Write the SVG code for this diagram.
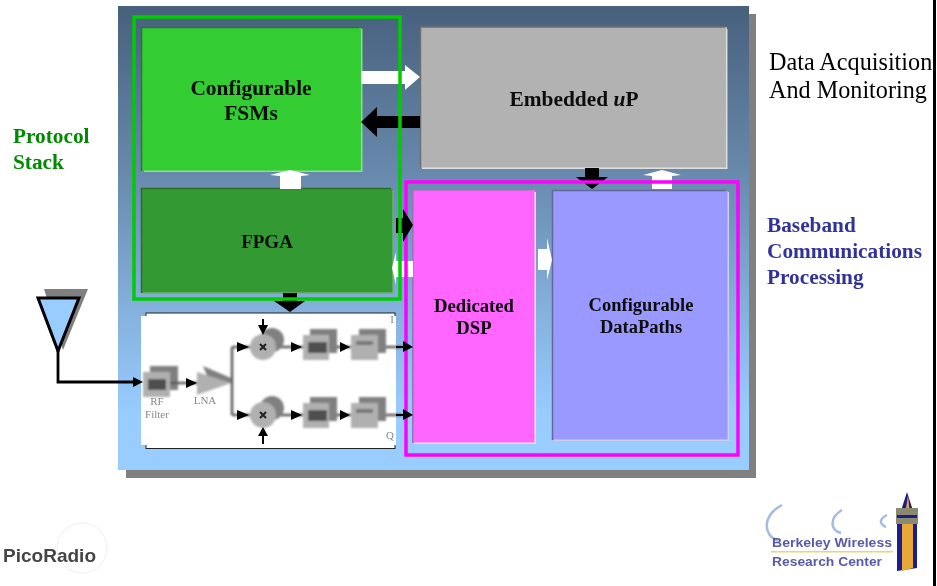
<svg xmlns="http://www.w3.org/2000/svg" width="937" height="586" viewBox="0 0 937 586">
<defs>
<linearGradient id="bg" x1="0" y1="0" x2="0" y2="1"><stop offset="0" stop-color="#47607c"/><stop offset="0.38" stop-color="#6a8cb0"/><stop offset="0.65" stop-color="#84b0dc"/><stop offset="0.88" stop-color="#99ccff"/><stop offset="1" stop-color="#99ccff"/></linearGradient>
<filter id="b1" x="-5%" y="-5%" width="110%" height="110%"><feGaussianBlur stdDeviation="0.9"/></filter>
<filter id="b2" x="-5%" y="-20%" width="110%" height="140%"><feGaussianBlur stdDeviation="0.6"/></filter>
<filter id="b3" x="-5%" y="-20%" width="110%" height="140%"><feGaussianBlur stdDeviation="0.3"/></filter>
</defs>
<style>
text{font-family:"Liberation Serif","Times New Roman",serif;filter:url(#b3)}
.b{font-weight:bold;text-anchor:middle;fill:#0c0c0c}
.l{font-size:21.300px;font-weight:bold}
.blk{fill:#000}.wht{fill:#fff}
.g{fill:#b0b0b0}.d{fill:#808080}.i{fill:#505050}
.e{fill:none;stroke-width:1.500}
.w{stroke:#5c5c5c;stroke-width:2.500;fill:none}
.s{font-family:"Liberation Sans",Arial,sans-serif;font-weight:bold}
.gr{fill:#888;font-size:11px;text-anchor:middle}
.arc{fill:none;stroke:#a4bce0;stroke-width:2.500}
</style>
<rect width="937" height="586" fill="#fff"/>
<rect x="933" y="0" width="3" height="586" fill="#000"/>
<rect x="126" y="14" width="630" height="464" fill="#808080"/>
<rect x="118" y="6" width="631" height="464" fill="url(#bg)"/>
<g id="fsm"><rect x="142" y="28" width="220" height="143" fill="#33cc33"/><path class="e" stroke="#2b7a2b" d="M141.500 171V27.500H359"/><path class="e" stroke="#8ee08e" d="M361.700 29V171.300H144"/><text class="b" font-size="21.400" x="251" y="95">Configurable</text><text class="b" font-size="21.400" x="251" y="120">FSMs</text></g>
<g id="up"><rect x="421" y="27" width="306" height="141" fill="#b2b2b2"/><path class="e" stroke="#707070" d="M420.500 168V27H725"/><path class="e" stroke="#e0e0e0" d="M726.700 29V168.300H422"/><text class="b" font-size="21.400" x="574" y="106">Embedded <tspan font-style="italic">u</tspan>P</text></g>
<g id="fpga"><rect x="142" y="189" width="251" height="104" fill="#339933"/><path class="e" stroke="#2a6e2a" d="M141.500 293V188.500H391"/><path class="e" stroke="#6ab36a" d="M393 190V293H143"/><text class="b" font-size="19" x="267" y="248">FPGA</text></g>
<g id="dsp"><rect x="413" y="190" width="122" height="253" fill="#ff66ff"/><path class="e" stroke="#8f78b0" d="M412.800 443V189.700H533"/><path class="e" stroke="#f2dcf5" d="M535.200 192V443.300H414"/><text class="b" font-size="18.700" x="474" y="312">Dedicated</text><text class="b" font-size="18.700" x="474" y="334">DSP</text></g>
<g id="dp"><rect x="553" y="191" width="175" height="249" fill="#9999ff"/><path class="e" stroke="#66669f" d="M552.500 440V190.500H726"/><path class="e" stroke="#cfcff5" d="M728.300 192V440.300H554"/><text class="b" font-size="18.500" x="641" y="311">Configurable</text><text class="b" font-size="18.500" x="641" y="333">DataPaths</text></g>
<g id="connectors">
<polygon class="wht" points="361,71 405,71 405,65 420,77 405,90 405,84 361,84"/>
<polygon class="blk" points="420,116 377,116 377,107 361,122 377,137 377,128 420,128"/>
<polygon class="wht" points="280,189 280,176 270,175 290,170 310,175 301,176 301,189"/>
<polygon class="blk" points="585,168 599,168 599,177 608,177 592,189 576,177 585,177"/>
<polygon class="wht" points="652,189 652,176 643,175 662,170 681,175 672,176 672,189"/>
<polygon class="wht" points="413,261 396,261 396,252 392,268 396,285 396,277 413,277"/>
<polygon class="wht" points="538,249 547,249 547,238 552,260 547,280 547,270 538,270"/>
<polygon class="blk" points="283,293 297,293 297,301 305,301 290,312 274,301 283,301"/>
</g>
<g id="rfblock">
<rect x="146" y="313" width="249" height="135.500" fill="#fff" stroke="#222" stroke-width="1"/>
<rect x="141" y="316" width="255" height="129" fill="#fff"/>
<g filter="url(#b1)">
<rect x="150" y="366" width="28" height="24" class="d"/><rect x="143" y="372" width="27" height="25" class="g"/><rect x="148" y="379" width="18" height="11" class="i"/>
<path class="w" d="M170 383H197"/>
<polygon points="203,366 231,378 231,383 210,383" class="d"/><polygon points="197,372 231,383 197,395" class="g"/>
<path class="w" d="M231 383H233M232 347V415M232 347H262M232 415H262M262 347H305M262 415H305M329 347H352M329 415H352M378 347H402M378 415H402"/>
<circle cx="272" cy="340" r="12" class="d"/><circle cx="263" cy="347" r="13" class="g"/>
<circle cx="272" cy="408" r="12" class="d"/><circle cx="263" cy="415" r="13" class="g"/>
<rect x="310" y="329" width="27" height="24" class="d"/><rect x="303" y="335" width="26" height="25" class="g"/><rect x="308" y="342" width="19" height="11" class="i"/>
<rect x="310" y="397" width="27" height="24" class="d"/><rect x="303" y="403" width="26" height="25" class="g"/><rect x="308" y="410" width="19" height="11" class="i"/>
<rect x="359" y="329" width="27" height="24" class="d"/><rect x="351" y="335" width="27" height="25" class="g"/>
<rect x="359" y="397" width="27" height="24" class="d"/><rect x="351" y="403" width="27" height="25" class="g"/>
<rect x="356" y="341" width="17" height="4" fill="#777"/><rect x="356" y="409" width="17" height="4" fill="#777"/>
</g>
<g class="blk" filter="url(#b3)">
<polygon points="237,342 249,347 237,352"/><polygon points="237,410 249,415 237,420"/>
<polygon points="291,342 302,347 291,352"/><polygon points="291,410 302,415 291,420"/>
<polygon points="340,342 350,347 340,352"/><polygon points="340,410 350,415 340,420"/>
<polygon points="186,378 197,383 186,388"/>
<polygon points="258,325 268,325 263,335"/><polygon points="258,436 268,436 263,427"/>
<rect x="262" y="319" width="2" height="8"/><rect x="262" y="435" width="2" height="9"/>
<path d="M260 344l6 6M266 344l-6 6M260 412l6 6M266 412l-6 6" stroke="#222" stroke-width="2"/>
</g>
<text x="157" y="405" class="gr" filter="url(#b2)">RF</text>
<text x="157" y="418" class="gr" font-size="10" filter="url(#b2)">Filter</text>
<text x="205" y="404" class="gr" filter="url(#b2)">LNA</text>
<text x="392" y="323" class="gr" filter="url(#b2)">I</text>
<text x="390" y="439" class="gr" filter="url(#b2)">Q</text>
</g>
<rect x="406" y="182" width="332" height="273" fill="none" stroke="#ff00ff" stroke-width="3.500"/>
<g id="cross-arrows" class="blk">
<polygon points="396,218 403,218 403,209 413,225 403,242 403,233 396,233"/>
<rect x="396" y="346" width="8" height="2"/><polygon points="403,341 413,347 403,352"/>
<rect x="396" y="414" width="8" height="2"/><polygon points="403,409 413,415 403,420"/>
</g>
<rect x="134" y="17" width="266" height="282" fill="none" stroke="#00cc00" stroke-width="3.500"/>
<g id="antenna">
<polygon points="44,289 88,289 63,350" fill="#808080"/>
<polygon points="38,298 79,298 58,351" fill="#99ccff" stroke="#000" stroke-width="3"/>
<path d="M58 350V382H135" fill="none" stroke="#000" stroke-width="2.800"/>
<polygon points="133,377 143,382 133,387" fill="#000"/>
</g>
<text x="13" y="143" class="l" fill="#008a00">Protocol</text>
<text x="13" y="169" class="l" fill="#008a00">Stack</text>
<text x="767" y="232" class="l" fill="#333399">Baseband</text>
<text x="767" y="258" class="l" fill="#333399">Communications</text>
<text x="767" y="284" class="l" fill="#333399">Processing</text>
<text x="769" y="70" font-size="24.200" fill="#000">Data Acquisition</text>
<text x="769" y="98" font-size="24.200" fill="#000">And Monitoring</text>
<g id="picoradio">
<circle cx="82" cy="548" r="25" fill="none" stroke="#f0f0f0" stroke-width="1"/>
<text x="3" y="562" class="s" font-size="19" fill="#444" style="filter:url(#b2)" textLength="93" lengthAdjust="spacingAndGlyphs">PicoRadio</text>
</g>
<g id="bwrc">
<path class="arc" d="M782 505C763 515 762 534 778 541"/>
<path class="arc" d="M842 510C829 518 830 530 841 533"/>
<path class="arc" d="M887 515C879 519 879 524 886 527"/>
<text x="772" y="547" class="s" font-size="12" fill="#5a5aa8" style="filter:url(#b2)" textLength="120" lengthAdjust="spacingAndGlyphs">Berkeley Wireless</text>
<rect x="771" y="551" width="122" height="1.500" fill="#e8d870"/>
<text x="772" y="566" class="s" font-size="12" fill="#5a5aa8" style="filter:url(#b2)" textLength="110" lengthAdjust="spacingAndGlyphs">Research Center</text>
<g filter="url(#b2)">
<polygon points="897,523 907,492 917,523 917,568 897,571" fill="#1a1a8a"/>
<polygon points="902,523 913,523 913,568 902,571" fill="#e8a838"/>
<polygon points="905,515 908,495 910,515" fill="#e8a838"/>
<rect x="896" y="508" width="22" height="16" fill="#8a8a70"/>
<rect x="897" y="515" width="20" height="3" fill="#1a1a8a"/>
</g>
</g>
</svg>
